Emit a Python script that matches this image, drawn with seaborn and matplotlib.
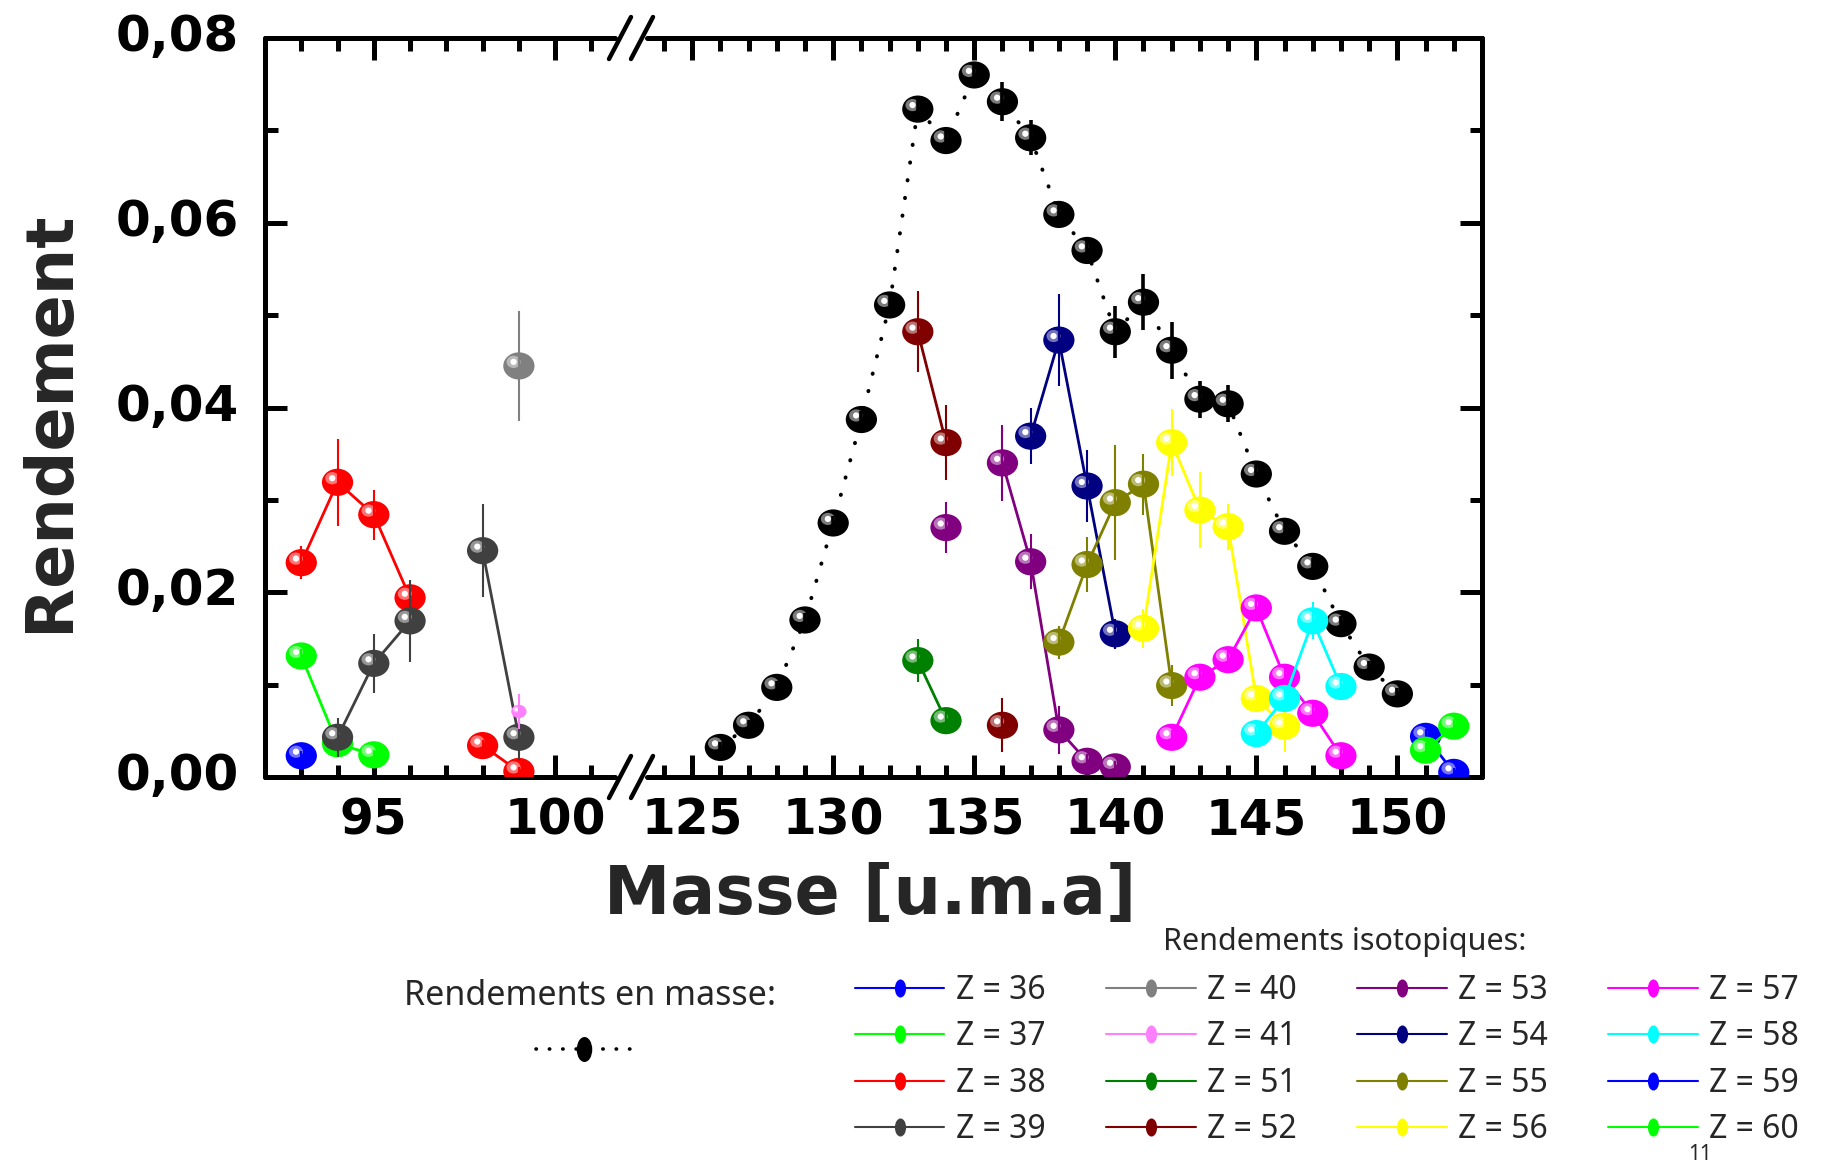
import numpy as np
import pandas as pd
import matplotlib
matplotlib.use("Agg")
import matplotlib.pyplot as plt
import seaborn as sns
from matplotlib.path import Path
from matplotlib.transforms import Affine2D, offset_copy, ScaledTranslation
from matplotlib.lines import Line2D
from matplotlib.ticker import MultipleLocator, FixedLocator, FuncFormatter
from matplotlib.colors import to_rgb

# ---------------------------------------------------------------- data
# Mass yields (black balls, dotted line)
mass_A = [126, 127, 128, 129, 130, 131, 132, 133, 134, 135, 136, 137, 138,
          139, 140, 141, 142, 143, 144, 145, 146, 147, 148, 149, 150]
mass_Y = [0.0032, 0.0056, 0.0097, 0.0170, 0.0275, 0.0387, 0.0511, 0.0723,
          0.0689, 0.0760, 0.0731, 0.0692, 0.0609, 0.0570, 0.0482, 0.0514,
          0.0462, 0.0409, 0.0404, 0.0328, 0.0266, 0.0228, 0.0166, 0.0119,
          0.0090]
mass_E = [0.0006, 0.0006, 0.0007, 0.0008, 0.0008, 0.0009, 0.0010, 0.0012,
          0.0012, 0.0012, 0.0021, 0.0019, 0.0012, 0.0012, 0.0028, 0.0030,
          0.0031, 0.0020, 0.0020, 0.0012, 0.0010, 0.0009, 0.0008, 0.0007,
          0.0006]

# Isotopic yields, one set of arrays per element Z
z36_A = [93]
z36_Y = [0.0023]
z36_E = [0.0005]
z37_A = [93, 94, 95]
z37_Y = [0.0131, 0.0036, 0.0024]
z37_E = [0.0008, 0.0005, 0.0005]
z38_A = [93, 94, 95, 96, 98, 99]
z38_Y = [0.0232, 0.0319, 0.0284, 0.0194, 0.0034, 0.0006]
z38_E = [0.0018, 0.0047, 0.0027, 0.0010, 0.0006, 0.0005]
z39_A = [94, 95, 96, 98, 99]
z39_Y = [0.0043, 0.0123, 0.0169, 0.0245, 0.0043]
z39_E = [0.0021, 0.0032, 0.0044, 0.0050, 0.0025]
z40_A = [99]
z40_Y = [0.0445]
z40_E = [0.0060]
z41_A = [99]
z41_Y = [0.0071]
z41_E = [0.0019]
z51_A = [133, 134]
z51_Y = [0.0126, 0.0061]
z51_E = [0.0023, 0.0012]
z52_A = [133, 134, 136]
z52_Y = [0.0482, 0.0362, 0.0056]
z52_E = [0.0044, 0.0041, 0.0029]
z53_A = [134, 136, 137, 138, 139, 140]
z53_Y = [0.0270, 0.0340, 0.0233, 0.0051, 0.0017, 0.0011]
z53_E = [0.0028, 0.0041, 0.0030, 0.0026, 0.0008, 0.0006]
z54_A = [137, 138, 139, 140]
z54_Y = [0.0369, 0.0473, 0.0315, 0.0155]
z54_E = [0.0030, 0.0050, 0.0039, 0.0016]
z55_A = [138, 139, 140, 141, 142]
z55_Y = [0.0146, 0.0230, 0.0297, 0.0317, 0.0099]
z55_E = [0.0018, 0.0030, 0.0062, 0.0033, 0.0022]
z56_A = [141, 142, 143, 144, 145, 146]
z56_Y = [0.0161, 0.0362, 0.0289, 0.0271, 0.0085, 0.0055]
z56_E = [0.0021, 0.0036, 0.0041, 0.0025, 0.0010, 0.0028]
z57_A = [142, 143, 144, 145, 146, 147, 148]
z57_Y = [0.0043, 0.0108, 0.0127, 0.0183, 0.0108, 0.0069, 0.0023]
z57_E = [0.0008, 0.0010, 0.0010, 0.0012, 0.0012, 0.0010, 0.0008]
z58_A = [145, 146, 147, 148]
z58_Y = [0.0047, 0.0085, 0.0169, 0.0098]
z58_E = [0.0008, 0.0012, 0.0020, 0.0010]
z59_A = [151, 152]
z59_Y = [0.0044, 0.0005]
z59_E = [0.0008, 0.0005]
z60_A = [151, 152]
z60_Y = [0.0029, 0.0055]
z60_E = [0.0008, 0.0008]

x_ticks_left = [95, 100]
x_ticks_right = [125, 130, 135, 140, 145, 150]
y_ticks = [0.00, 0.02, 0.04, 0.06, 0.08]

# (Z, masses, yields, errors, colour, ball size)
series = [
    (36, z36_A, z36_Y, z36_E, "#0000FF", 22.5),
    (37, z37_A, z37_Y, z37_E, "#00FF00", 22.5),
    (38, z38_A, z38_Y, z38_E, "#FF0000", 22.5),
    (39, z39_A, z39_Y, z39_E, "#404040", 22.5),
    (40, z40_A, z40_Y, z40_E, "#808080", 22.5),
    (41, z41_A, z41_Y, z41_E, "#FF80FF", 11),
    (51, z51_A, z51_Y, z51_E, "#008000", 22.5),
    (52, z52_A, z52_Y, z52_E, "#800000", 22.5),
    (53, z53_A, z53_Y, z53_E, "#800080", 22.5),
    (54, z54_A, z54_Y, z54_E, "#000080", 22.5),
    (55, z55_A, z55_Y, z55_E, "#808000", 22.5),
    (56, z56_A, z56_Y, z56_E, "#FFFF00", 22.5),
    (57, z57_A, z57_Y, z57_E, "#FF00FF", 22.5),
    (58, z58_A, z58_Y, z58_E, "#00FFFF", 22.5),
    (59, z59_A, z59_Y, z59_E, "#0000FF", 22.5),
    (60, z60_A, z60_Y, z60_E, "#00FF00", 22.5),
]

# ---------------------------------------------------------------- style
sns.set_theme(style="white")
plt.rcParams["font.family"] = ["DejaVu Sans"]
plt.rcParams["font.weight"] = "bold"

W, H = 1823, 1165
fig = plt.figure(figsize=(W / 100, H / 100), dpi=100)
fig.patch.set_facecolor("white")


def fx(px):
    return px / W


def fy(py):
    return 1 - py / H


ax_top, ax_bot = 38, 777
axL = fig.add_axes([fx(265), fy(ax_bot), fx(615 - 265), (ax_bot - ax_top) / H])
axR = fig.add_axes([fx(647), fy(ax_bot), fx(1482 - 647), (ax_bot - ax_top) / H],
                   sharey=axL)

# slightly flattened ball marker (plot) and upright ellipse (legend)
BALL = Path.unit_circle().transformed(Affine2D().scale(1.0, 0.87))
LEG_BALL = Path.unit_circle().transformed(Affine2D().scale(0.62, 1.0))


def lighten(c, f):
    r, g, b = to_rgb(c)
    return (r + (1 - r) * f, g + (1 - g) * f, b + (1 - b) * f)


def draw(ax, A, Y, E, color, size, z, line=True, lw=2.0, linestyle="-",
         elw=1.5, ecolor=None):
    df = pd.DataFrame({"A": A, "Y": Y})
    df["seg"] = (df["A"].diff() != 1).cumsum()
    if line and len(df) > 1:
        kw = dict(color=color, lw=lw, linestyle=linestyle)
        if linestyle != "-":
            kw["dash_capstyle"] = "round"
        sns.lineplot(data=df, x="A", y="Y", units="seg", estimator=None,
                     ax=ax, legend=False, zorder=z, **kw)
    sns.scatterplot(data=df, x="A", y="Y", marker=BALL, s=size ** 2,
                    color=color, edgecolor="none", linewidth=0, ax=ax,
                    legend=False, zorder=z + 0.001)
    hl = offset_copy(ax.transData, fig=fig, x=-size * 0.17, y=size * 0.13,
                     units="points")
    hl_col = lighten(color, 0.45) if color != "#000000" else "#7a7a7a"
    ax.scatter(A, Y, s=(size * 0.45) ** 2, marker=BALL, color=hl_col,
               edgecolor="none", transform=hl, zorder=z + 0.002)
    ax.scatter(A, Y, s=(size * 0.2) ** 2, marker="o", color="white",
               edgecolor="none", transform=hl, zorder=z + 0.003)
    ax.errorbar(A, Y, yerr=E, fmt="none", ecolor=ecolor or color,
                elinewidth=elw, capsize=0, zorder=z + 0.004)


# mass yields
draw(axR, mass_A, mass_Y, mass_E, "#000000", 22.5, 2.0, lw=2.8,
     linestyle=(0, (0.1, 4.5)), elw=2.6)

for i, (Z, A, Y, E, c, s) in enumerate(series):
    ax = axL if max(A) < 110 else axR
    ecol = "#404040" if Z == 39 else None
    draw(ax, A, Y, E, c, s, 3.0 + 0.1 * i, ecolor=ecol)

# ---------------------------------------------------------------- axes
axL.set_xlim(92, 101.65)
axR.set_xlim(123.4, 153.0)
axL.set_ylim(0, 0.08)

comma = FuncFormatter(lambda v, p: f"{v:.2f}".replace(".", ","))
for ax in (axL, axR):
    ax.set_xlabel("")
    ax.set_ylabel("")
    ax.set_facecolor("white")
    ax.grid(False)
    for sp in ax.spines.values():
        sp.set_linewidth(3.6)
        sp.set_color("black")
        sp.set_capstyle("round")
    ax.xaxis.set_minor_locator(MultipleLocator(1))
    ax.yaxis.set_minor_locator(MultipleLocator(0.01))
    ax.tick_params(which="major", direction="in", length=16, width=3.6,
                   colors="black", labelsize=35, top=True, bottom=True)
    ax.tick_params(which="minor", direction="in", length=9, width=3.6,
                   colors="black", top=True, bottom=True)
    ax.tick_params(axis="x", which="major", pad=14)

axL.xaxis.set_major_locator(FixedLocator(x_ticks_left))
axR.xaxis.set_major_locator(FixedLocator(x_ticks_right))
axL.yaxis.set_major_locator(FixedLocator(y_ticks))
axL.yaxis.set_major_formatter(comma)
axL.tick_params(axis="y", which="both", left=True, right=False, pad=19,
                labelsize=36)
axL.spines["right"].set_visible(False)
axR.spines["left"].set_visible(False)
axR.tick_params(axis="y", which="both", left=False, right=True,
                labelleft=False, labelright=False)

# y tick labels sit a little above their ticks
lift = ScaledTranslation(0, 6 / 100, fig.dpi_scale_trans)
for lab in axL.get_yticklabels():
    lab.set_transform(lab.get_transform() + lift)

# axis break marks
for yb in (ax_top, ax_bot):
    for xc in (620, 642):
        fig.add_artist(Line2D([fx(xc - 11), fx(xc + 11)],
                              [fy(yb + 21), fy(yb - 21)],
                              transform=fig.transFigure, color="black",
                              lw=3.2, solid_capstyle="round"))

# axis titles
fig.text(fx(50), fy(421), "Rendement", rotation=90, fontsize=47,
         weight="bold", ha="center", va="center")
fig.text(fx(870), fy(895), "Masse [u.m.a]", fontsize=48, weight="bold",
         ha="center", va="center")

# ---------------------------------------------------------------- legends
txt = {"family": "Noto Sans", "weight": "normal"}
fig.text(fx(590), fy(996), "Rendements en masse:", fontsize=24.5,
         ha="center", va="center", **txt)
fig.add_artist(Line2D([fx(536), fx(632)], [fy(1049), fy(1049)],
                      transform=fig.transFigure, color="black", lw=2.6,
                      linestyle=(0, (0.1, 3.6)), dash_capstyle="round"))
fig.add_artist(Line2D([fx(584)], [fy(1049)], transform=fig.transFigure,
                      marker=LEG_BALL, markersize=18, color="black",
                      markeredgecolor="none", linestyle="none"))

fig.text(fx(1345), fy(942), "Rendements isotopiques:", fontsize=22,
         ha="center", va="center", **txt)

handles = [Line2D([], [], color=c, lw=1.5, marker=LEG_BALL, markersize=13,
                  markerfacecolor=c, markeredgecolor="none")
           for (Z, A, Y, E, c, s) in series]
labels = [f"Z = {Z}" for (Z, A, Y, E, c, s) in series]
leg = fig.legend(handles, labels, ncol=4, loc="upper left",
                 bbox_to_anchor=(fx(855), fy(974)), frameon=False,
                 prop={**txt, "size": 23}, handlelength=2.8,
                 handletextpad=0.35, columnspacing=1.9, labelspacing=0.42,
                 borderpad=0, borderaxespad=0)

fig.text(fx(1700), fy(1155), "11", fontsize=15, ha="center", va="center",
         **txt)

fig.savefig("out.png", dpi=100, facecolor="white")
